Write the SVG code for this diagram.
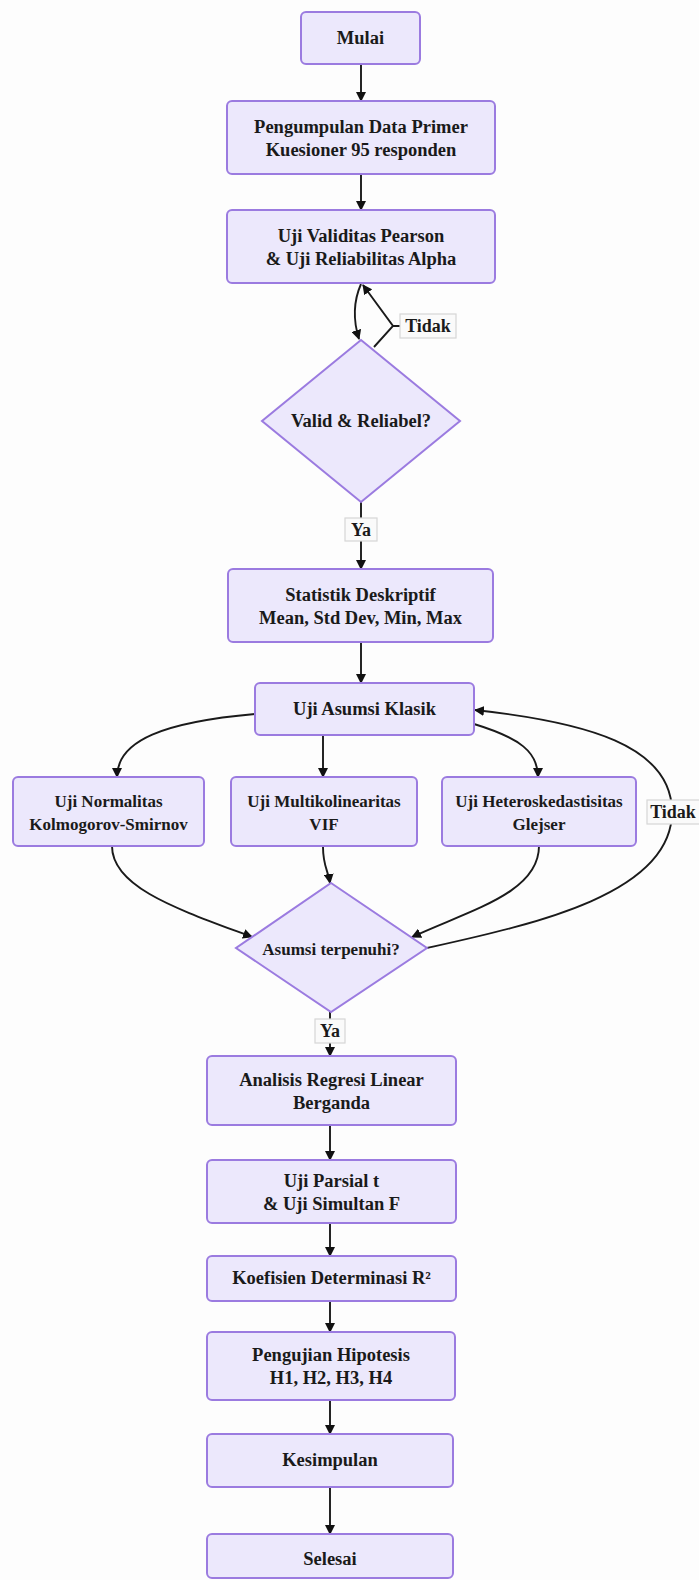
<svg xmlns="http://www.w3.org/2000/svg" width="699" height="1580" viewBox="0 0 699 1580">
<style>
.node rect,.node polygon{fill:#ECE8FC;stroke:#9B7BE0;stroke-width:2}
text{font-family:"Liberation Serif","Times New Roman",serif;font-weight:bold;font-size:18.5px;fill:#1a1a1a;text-anchor:middle;dominant-baseline:central}
.sm{font-size:17px}
.edge{fill:none;stroke:#1a1a1a;stroke-width:1.9}
.lbl rect{fill:#fafafa;stroke:#d6d6d6;stroke-width:1.2}
.lbl text{font-size:18px}
</style>
<defs>
<marker id="arr" viewBox="0 0 10 10" refX="9" refY="5" markerWidth="10" markerHeight="10" markerUnits="userSpaceOnUse" orient="auto">
<path d="M0,0 L10,5 L0,10 z" fill="#111"/>
</marker>
</defs>
<rect width="699" height="1580" fill="#fdfdfd"/>
<g id="connectors">
<path class="edge" d="M361,64 L361,101" marker-end="url(#arr)"/>
<path class="edge" d="M361,174 L361,210" marker-end="url(#arr)"/>
<path class="edge" d="M361,284 C354,300 353,320 359,339" marker-end="url(#arr)"/>
<path class="edge" d="M400,326 L393,326 M374,347 L393,326 L363,285" marker-end="url(#arr)"/>
<path class="edge" d="M361,502 L361,569" marker-end="url(#arr)"/>
<path class="edge" d="M361,642 L361,683" marker-end="url(#arr)"/>
<path class="edge" d="M255,714 C165,722 117,740 117,777" marker-end="url(#arr)"/>
<path class="edge" d="M323,735 L323,777" marker-end="url(#arr)"/>
<path class="edge" d="M474,724 C520,738 538,752 538,777" marker-end="url(#arr)"/>
<path class="edge" d="M112,846 C112,888 180,910 252,937" marker-end="url(#arr)"/>
<path class="edge" d="M323,847 C323,866 328,870 330,883" marker-end="url(#arr)"/>
<path class="edge" d="M539,846 C539,893 470,910 412,937" marker-end="url(#arr)"/>
<path class="edge" d="M427,948 C530,925 672,895 672,812 C672,745 585,722 475,710" marker-end="url(#arr)"/>
<path class="edge" d="M330,1012 L330,1056" marker-end="url(#arr)"/>
<path class="edge" d="M330,1125 L330,1160" marker-end="url(#arr)"/>
<path class="edge" d="M330,1223 L330,1256" marker-end="url(#arr)"/>
<path class="edge" d="M330,1301 L330,1332" marker-end="url(#arr)"/>
<path class="edge" d="M330,1400 L330,1434" marker-end="url(#arr)"/>
<path class="edge" d="M330,1487 L330,1534" marker-end="url(#arr)"/>
<g class="lbl"><rect x="400" y="314" width="56" height="24"/><text x="428" y="326">Tidak</text></g>
<g class="lbl"><rect x="345" y="518" width="32" height="23"/><text x="361" y="529.5">Ya</text></g>
<g class="lbl"><rect x="647" y="800" width="54" height="24"/><text x="673" y="812">Tidak</text></g>
<g class="lbl"><rect x="315" y="1019" width="30" height="24"/><text x="330" y="1031">Ya</text></g>
</g>
<g id="mulai" class="node"><rect x="301" y="12" width="119" height="52" rx="5"/><text x="360.5" y="38">Mulai</text></g>
<g id="pengumpulan" class="node"><rect x="227" y="101" width="268" height="73" rx="5"/><text x="361" y="127">Pengumpulan Data Primer</text><text x="361" y="150">Kuesioner 95 responden</text></g>
<g id="validitas" class="node"><rect x="227" y="210" width="268" height="73" rx="5"/><text x="361" y="236">Uji Validitas Pearson</text><text x="361" y="259">&amp; Uji Reliabilitas Alpha</text></g>
<g id="valid" class="node"><polygon points="361,340 460,421 361,502 262,421"/><text x="361" y="421">Valid &amp; Reliabel?</text></g>
<g id="statistik" class="node"><rect x="228" y="569" width="265" height="73" rx="5"/><text x="360.5" y="595">Statistik Deskriptif</text><text x="360.5" y="618">Mean, Std Dev, Min, Max</text></g>
<g id="asumsi" class="node"><rect x="255" y="683" width="219" height="52" rx="5"/><text x="364.5" y="709">Uji Asumsi Klasik</text></g>
<g id="normalitas" class="node"><rect x="13" y="777" width="191" height="69" rx="5"/><text class="sm" x="108.5" y="801">Uji Normalitas</text><text class="sm" x="108.5" y="824">Kolmogorov-Smirnov</text></g>
<g id="multi" class="node"><rect x="231" y="777" width="186" height="69" rx="5"/><text class="sm" x="324" y="801">Uji Multikolinearitas</text><text class="sm" x="324" y="824">VIF</text></g>
<g id="hetero" class="node"><rect x="442" y="777" width="194" height="69" rx="5"/><text class="sm" x="539" y="801">Uji Heteroskedastisitas</text><text class="sm" x="539" y="824">Glejser</text></g>
<g id="terpenuhi" class="node"><polygon points="331,883 427,948 331,1012 236,948"/><text class="sm" x="331" y="949">Asumsi terpenuhi?</text></g>
<g id="regresi" class="node"><rect x="207" y="1056" width="249" height="69" rx="5"/><text x="331.5" y="1080">Analisis Regresi Linear</text><text x="331.5" y="1103">Berganda</text></g>
<g id="parsial" class="node"><rect x="207" y="1160" width="249" height="63" rx="5"/><text x="331.5" y="1181">Uji Parsial t</text><text x="331.5" y="1204">&amp; Uji Simultan F</text></g>
<g id="koefisien" class="node"><rect x="207" y="1256" width="249" height="45" rx="5"/><text x="331.5" y="1278">Koefisien Determinasi R²</text></g>
<g id="hipotesis" class="node"><rect x="207" y="1332" width="248" height="68" rx="5"/><text x="331" y="1355">Pengujian Hipotesis</text><text x="331" y="1378">H1, H2, H3, H4</text></g>
<g id="kesimpulan" class="node"><rect x="207" y="1434" width="246" height="53" rx="5"/><text x="330" y="1460">Kesimpulan</text></g>
<g id="selesai" class="node"><rect x="207" y="1534" width="246" height="44" rx="5"/><text x="330" y="1559">Selesai</text></g>
</svg>
